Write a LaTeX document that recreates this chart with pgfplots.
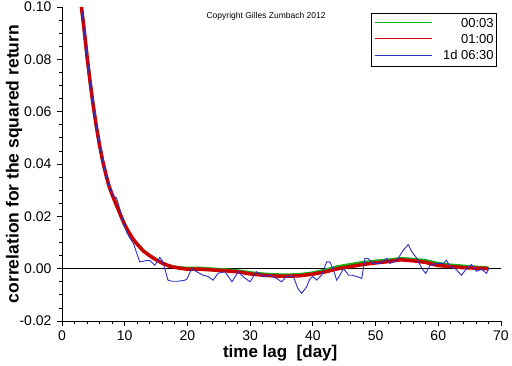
\documentclass[border=0pt]{standalone}
\usepackage{pgfplots}
\pgfplotsset{compat=1.18}
\usepackage{fontspec}
\setmainfont{Liberation Sans}
\definecolor{cgreen}{RGB}{20,175,20}
\definecolor{cred}{RGB}{205,0,0}
\definecolor{cblue}{RGB}{45,45,200}
\newcommand{\legline}[1]{\textcolor{#1}{\rule[0.32em]{57bp}{0.9bp}}\hspace{11bp}}
\begin{document}
\begin{tikzpicture}
\useasboundingbox (0,0) rectangle (512bp,366bp);
\begin{axis}[
  at={(62bp,45bp)}, anchor=south west,
  scale only axis, width=439bp, height=314bp,
  xmin=0, xmax=70, ymin=-0.02, ymax=0.10,
  axis x line*=bottom, axis y line*=left,
  hide obscured x ticks=false, hide obscured y ticks=false,
  axis line style={-, line width=0.8bp},
  xtick={0,10,...,70}, ytick={-0.02,0,0.02,0.04,0.06,0.08,0.10},
  minor x tick num=4, minor y tick num=3,
  tick align=outside,
  major tick length=5bp, minor tick length=3bp,
  every tick/.style={black, line width=0.8bp},
  /pgf/number format/assume math mode=true,
  yticklabel style={/pgf/number format/fixed, /pgf/number format/fixed zerofill, /pgf/number format/precision=2, font=\fontsize{14bp}{16bp}\selectfont, xshift=-2bp},
  xticklabel style={font=\fontsize{14bp}{16bp}\selectfont, yshift=-1bp},
  scaled y ticks=false,
  xlabel={time lag\ \ [day]},
  ylabel={correlation for the squared return},
  every axis x label/.style={at={(rel axis cs:0.497,-0.102)}, anchor=center, font=\fontsize{17bp}{19bp}\selectfont\bfseries},
  every axis y label/.style={at={(rel axis cs:-0.109,0.5)}, rotate=90, anchor=center, font=\fontsize{17.5bp}{19bp}\selectfont\bfseries},
  legend style={at={(rel axis cs:0.991,0.981)}, anchor=north east, draw=black, line width=0.8bp, font=\fontsize{13bp}{15bp}\selectfont, row sep=1.5bp, inner xsep=1bp, inner ysep=3bp},
  legend cell align=left,
  legend image code/.code={},
]
\addplot[black, line width=0.8bp, forget plot] coordinates {(0,0) (70,0)};
\addplot[cgreen, line width=3bp] coordinates {
(3.1,0.100) (3.5,0.092) (4,0.081) (4.5,0.071) (5,0.062) (5.5,0.054) (6,0.047) (6.5,0.041)
(7,0.036) (7.5,0.0315) (8,0.0283) (8.5,0.0253) (9,0.0225) (9.5,0.0195) (10,0.0168) (10.5,0.0145)
(11,0.0125) (11.5,0.0108) (12,0.0094) (13,0.0068) (14,0.0050) (15,0.0035) (16,0.0022) (17,0.0012)
(18,0.0006) (19,0.0003) (20,0.0002) (22,0.0002) (24,-0.0001) (26,-0.0004) (28,-0.0008) (30,-0.0015)
(32,-0.0020) (34,-0.0023) (36,-0.0024) (38,-0.0022) (40,-0.0016) (42,-0.0005) (44,0.0008) (46,0.0016)
(48,0.0024) (50,0.0029) (52,0.0033) (54,0.0039) (56,0.0036) (58,0.0031) (60,0.0020) (62,0.0014)
(64,0.0010) (66,0.0006) (68,0.0003)};
\addlegendentry{\legline{cgreen}\makebox[51bp][r]{00:03}}
\addplot[cred, line width=3.5bp] coordinates {
(3.1,0.100) (3.5,0.092) (4,0.081) (4.5,0.071) (5,0.062) (5.5,0.054) (6,0.047) (6.5,0.041)
(7,0.036) (7.5,0.0315) (8,0.0283) (8.5,0.0253) (9,0.0225) (9.5,0.0195) (10,0.0168) (10.5,0.0145)
(11,0.0125) (11.5,0.0108) (12,0.0093) (13,0.0067) (14,0.0049) (15,0.0034) (16,0.0021) (17,0.0011)
(18,0.0005) (19,0.0001) (20,-0.0002) (22,-0.0002) (24,-0.0005) (26,-0.0008) (28,-0.0012) (30,-0.0020)
(32,-0.0025) (34,-0.0028) (36,-0.0029) (38,-0.0027) (40,-0.0021) (42,-0.0012) (44,0.0000) (46,0.0008)
(48,0.0016) (50,0.0022) (52,0.0027) (54,0.0034) (56,0.0030) (58,0.0024) (60,0.0012) (62,0.0008)
(64,0.0004) (66,0.0002) (68,0.0000)};
\addlegendentry{\legline{cred}\makebox[51bp][r]{01:00}}
\addplot[cblue, line width=0.9bp] coordinates {
(3.1,0.100) (3.5,0.092) (4,0.081) (4.5,0.071) (5,0.062) (5.5,0.054) (6,0.047) (6.5,0.041)
(7,0.036) (7.5,0.0315) (8,0.0285) (8.3,0.0275) (8.7,0.027) (9.2,0.023) (9.7,0.0185) (10.3,0.0140)
(10.8,0.0118) (11.4,0.0096) (11.9,0.0060) (12.4,0.0026) (13.2,0.0030) (14,0.0032) (14.8,0.0013)
(15.6,0.0043) (16.0,0.0030) (16.4,0.0000) (16.9,-0.0044) (17.5,-0.0048) (18.5,-0.0048) (19.5,-0.0045)
(19.9,-0.0040) (20.7,0.0) (21.5,-0.0012) (22.5,-0.0025) (23.3,-0.0030) (24.1,-0.0044) (24.9,-0.0017)
(26.0,-0.0012) (27.1,-0.0050) (28.1,-0.0012) (29.2,-0.0037) (30.0,-0.0050) (31.0,-0.0012) (32.1,-0.0030)
(33.2,-0.0025) (34.2,-0.0037) (35.0,-0.0050) (35.8,-0.0030) (36.9,-0.0030) (37.6,-0.0075) (38.2,-0.0094)
(39.0,-0.0070) (39.5,-0.0040) (40.0,-0.0030) (40.6,-0.0044) (41.4,-0.0025) (42.2,0.0026) (42.7,0.0026)
(43.3,-0.0006) (43.8,-0.0044) (44.3,-0.0025) (44.9,0.0) (45.7,-0.0025) (46.2,-0.0025) (47.0,-0.0030)
(47.8,-0.0037) (48.3,0.0039) (48.8,0.0039) (49.6,0.0020) (50.7,0.0020) (51.8,0.0039) (52.3,0.0020)
(53.4,0.0032) (54.4,0.0070) (55.2,0.0092) (55.8,0.0064) (56.6,0.0039) (57.4,0.0) (58.0,-0.0018)
(58.7,0.0013) (59.8,0.0020) (60.8,0.0020) (61.3,0.0032) (61.9,0.0007) (62.7,0.0) (63.7,-0.0025)
(64.5,0.0) (65.3,0.0016) (66.1,-0.001) (66.9,-0.0002) (67.7,-0.0018) (68.1,0.0003)};
\addlegendentry{\legline{cblue}\makebox[51bp][r]{1d 06:30}}
\node[font=\fontsize{8.5bp}{10bp}\selectfont, anchor=center] at (rel axis cs:0.465,0.971) {Copyright Gilles Zumbach 2012};
\end{axis}
\end{tikzpicture}
\end{document}
